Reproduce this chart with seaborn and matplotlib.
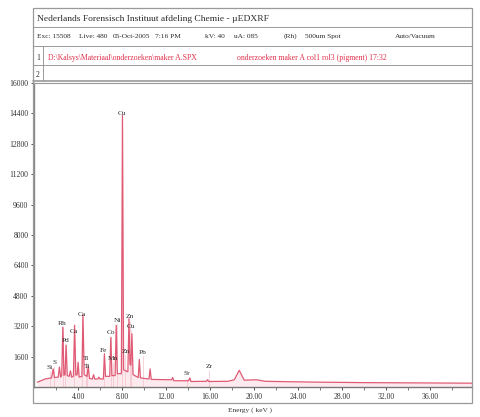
import matplotlib
matplotlib.use("Agg")
import matplotlib.pyplot as plt
from matplotlib.patches import Rectangle
from matplotlib.lines import Line2D
import seaborn as sns
import pandas as pd

# ---- data ----
energy_kev = [0.3, 1.0, 1.6, 1.74, 1.86, 2.2, 2.31, 2.42, 2.52, 2.62, 2.72, 2.82, 2.92, 3.02,
              3.2, 3.31, 3.42, 3.58, 3.69, 3.8, 3.92, 4.01, 4.1, 4.35, 4.45, 4.56,
              4.82, 4.93, 5.04, 5.3, 5.41, 5.52, 5.8, 5.9, 6.0, 6.3, 6.40, 6.5,
              6.88, 6.98, 7.08, 7.37, 7.47, 7.57, 7.94, 8.04, 8.14, 8.53, 8.63, 8.72,
              8.80, 8.90, 9.0, 9.47, 9.57, 9.67, 10.45, 10.55, 10.65, 12.5, 12.6,
              12.7, 14.06, 14.16, 14.26, 15.67, 15.77, 15.87, 17.6, 18.2, 18.65, 19.1,
              20.2, 21.0, 25.0, 30.0, 39.8]
counts = [250, 420, 480, 950, 500, 520, 1050, 520, 600, 3150, 620, 650, 2200, 600,
          560, 850, 520, 560, 3250, 620, 650, 1300, 520, 560, 3800, 650,
          560, 1100, 450, 420, 650, 420, 420, 520, 420, 420, 1750, 560,
          560, 2600, 600, 600, 3250, 700, 700, 14300, 900, 800, 3600, 1200,
          1150, 2800, 650, 500, 1450, 480, 420, 950, 400, 380, 500,
          330, 330, 480, 290, 300, 380, 290, 300, 380, 880, 360,
          380, 300, 260, 230, 200]

peak_labels = ["Si", "S", "Rh", "Pd", "Ca", "Ca", "Ti", "Ti", "Fe", "Co", "Ni",
               "Cu", "Zn", "Cu", "Mn", "Zn", "Pb", "Sr", "Zr"]
label_kev = [1.45, 1.85, 2.6, 2.85, 3.6, 4.35, 4.75, 4.8, 6.35, 7.0, 7.55,
             8.0, 8.7, 8.8, 7.2, 8.3, 9.9, 13.9, 15.9]
label_counts = [850, 1100, 3150, 2250, 2750, 3650, 1300, 900, 1750, 2700, 3300,
                14200, 3500, 3000, 1300, 1700, 1650, 500, 900]

y_ticks = [1600, 3200, 4800, 6400, 8000, 9600, 11200, 12800, 14400, 16000]
x_ticks = [4, 8, 12, 16, 20, 24, 28, 32, 36]

title_text = "Nederlands Forensisch Instituut afdeling Chemie - \u00b5EDXRF"
info_items = ["Exc: 15508", "Live: 480", "05-Oct-2005", "7:16 PM", "kV: 40",
              "uA: 085", "(Rh)", "500um Spot", "Auto/Vacuum"]
info_x = [37, 79, 113, 155, 205, 234, 284, 305, 395]
file_items = ["D:\\Kalsys\\Materiaal\\onderzoeken\\maker A.SPX",
              "onderzoeken maker A col1 rol3 (pigment) 17:32"]
file_x = [48, 237]
x_label = "Energy ( keV )"

# ---- figure ----
sns.set_theme(style="white")
plt.rcParams["font.family"] = ["Liberation Serif", "DejaVu Serif"]
W, H = 481, 417
fig = plt.figure(figsize=(W / 100, H / 100), dpi=100)
fig.patch.set_facecolor("white")

def fx(px):
    return px / W

def fy(py):
    return 1 - py / H

ax = fig.add_axes([fx(34), fy(387), fx(472) - fx(34), fy(83) - fy(387)])
ax.set_facecolor("white")

df = pd.DataFrame({"energy": energy_kev, "counts": counts})
ax.fill_between(df["energy"], 0, df["counts"], color="#fdeaee", lw=0, zorder=1)
ax.vlines(label_kev, 0, label_counts, color="#f3c0cb", lw=0.5, zorder=2)
sns.lineplot(data=df, x="energy", y="counts", ax=ax, color="#e05a75",
             lw=0.9, sort=False, estimator=None, zorder=3)

for t, e, c in zip(peak_labels, label_kev, label_counts):
    ax.text(e, c + 60, t, fontsize=5.3, color="#2a2a2a", ha="center", va="bottom",
            zorder=4)

ax.set_xlim(0, 39.8)
ax.set_ylim(0, 16000)
ax.set_xticks(x_ticks)
ax.set_xticklabels([f"{v:.2f}" for v in x_ticks])
ax.set_xticks([v for v in range(2, 40, 2)], minor=True)
ax.set_yticks(y_ticks)
ax.set_yticklabels([str(v) for v in y_ticks])
ax.tick_params(axis="both", labelsize=5.5, colors="#333333", length=2.5, width=0.6,
               pad=1.5, direction="out")
ax.tick_params(axis="x", which="minor", length=2, width=0.6, color="#666666",
               direction="out")
ax.tick_params(axis="both", which="major", bottom=True, left=True)
ax.tick_params(axis="x", which="minor", bottom=True)
ax.set_xlabel("")
ax.set_ylabel("")
for s in ["top", "right"]:
    ax.spines[s].set_visible(False)
ax.spines["left"].set_color("#888888")
ax.spines["bottom"].set_color("#777777")
ax.spines["left"].set_linewidth(1.0)
ax.spines["bottom"].set_linewidth(1.0)

fig.text(fx(250), fy(410), x_label, fontsize=5.3, color="#333333",
         ha="center", va="center")

# ---- header frame ----
frame_col = "#999999"
fig.patches.append(Rectangle((fx(33), fy(403)), fx(472) - fx(33), fy(8) - fy(403),
                             transform=fig.transFigure, fill=False,
                             edgecolor=frame_col, lw=0.9))
for py, lw in [(27, 0.7), (46, 0.7), (65, 0.7), (81, 1.2), (83, 0.8)]:
    fig.lines.append(Line2D([fx(33), fx(472)], [fy(py), fy(py)],
                            transform=fig.transFigure, color=frame_col, lw=lw))
fig.lines.append(Line2D([fx(43), fx(43)], [fy(46), fy(81)],
                        transform=fig.transFigure, color=frame_col, lw=0.7))

fig.text(fx(37), fy(18), title_text, fontsize=6.8, color="#2a2a2a",
         va="center_baseline")
for t, px in zip(info_items, info_x):
    fig.text(fx(px), fy(38), t, fontsize=5.3, color="#2a2a2a", va="baseline")
fig.text(fx(38), fy(57), "1", fontsize=5.5, color="#2a2a2a", va="center_baseline",
         ha="center")
for t, px in zip(file_items, file_x):
    fig.text(fx(px), fy(57), t, fontsize=5.6, color="#e0304a", va="center_baseline")
fig.text(fx(38), fy(74), "2", fontsize=5.5, color="#2a2a2a", va="center_baseline",
         ha="center")

fig.savefig("out.png", dpi=100, facecolor="white")
